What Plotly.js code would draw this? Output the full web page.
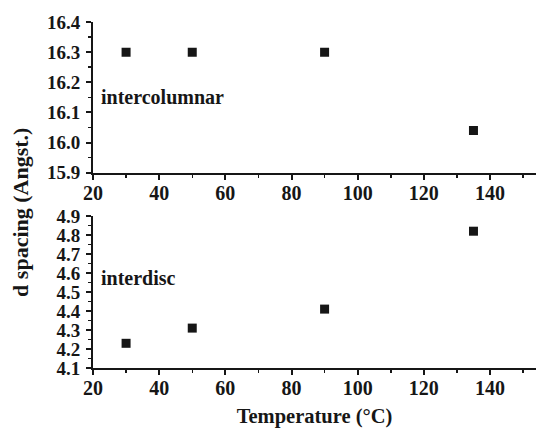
<!DOCTYPE html>
<html>
<head>
<meta charset="utf-8">
<script src="https://cdn.plot.ly/plotly-3.0.1.min.js"></script>
<style>html,body{margin:0;padding:0;background:#fff;}#chart{width:536px;height:428px;}</style>
</head>
<body>
<div id="chart"></div>
<script>
var temperature = [30, 50, 90, 135];
var intercolumnar = [16.30, 16.30, 16.30, 16.04];
var interdisc = [4.23, 4.31, 4.41, 4.82];
var xTicks = [20, 40, 60, 80, 100, 120, 140];
var panelLabels = ["intercolumnar", "interdisc"];

var FONT = "Liberation Serif, Times New Roman, serif";
var INK = "#161616";

var marker = {symbol: "square", size: 9, color: INK};
var traces = [
  {x: temperature, y: intercolumnar, type: "scatter", mode: "markers", marker: marker, xaxis: "x", yaxis: "y", hoverinfo: "none"},
  {x: temperature, y: interdisc, type: "scatter", mode: "markers", marker: marker, xaxis: "x2", yaxis: "y2", hoverinfo: "none"}
];

function xAxis(anchor) {
  return {
    anchor: anchor, domain: [0, 1], range: [20, 153.9],
    tickvals: xTicks, ticktext: xTicks.map(String),
    ticks: "outside", ticklen: 5, tickwidth: 2, tickcolor: INK,
    minor: {dtick: 10, tick0: 0, ticks: "outside", ticklen: 3, tickwidth: 1.5, tickcolor: INK},
    showline: true, linewidth: 2, linecolor: INK, showgrid: false, zeroline: false,
    tickfont: {family: FONT, size: 20, color: INK, weight: "bold"}, ticklabelstandoff: -4
  };
}
function yAxis(anchor, domain, range) {
  return {
    anchor: anchor, domain: domain, range: range, dtick: 0.1, tick0: 0, tickformat: ".1f",
    ticks: "outside", ticklen: 5, tickwidth: 2, tickcolor: INK,
    minor: {dtick: 0.05, ticks: "outside", ticklen: 3, tickwidth: 1.5, tickcolor: INK},
    showline: true, linewidth: 2, linecolor: INK, showgrid: false, zeroline: false,
    tickfont: {family: FONT, size: 19, color: INK, weight: "bold"}, ticklabelstandoff: 2
  };
}

var layout = {
  width: 536, height: 428,
  margin: {l: 93, r: 0, t: 22, b: 60},
  paper_bgcolor: "#ffffff", plot_bgcolor: "#ffffff",
  showlegend: false,
  xaxis: xAxis("y"),
  yaxis: yAxis("x", [0.5645, 1], [15.9, 16.4]),
  xaxis2: Object.assign(xAxis("y2"), {title: {text: "Temperature (°C)", font: {family: FONT, size: 20.5, color: INK, weight: "bold"}, standoff: 14}}),
  yaxis2: yAxis("x2", [0, 0.4393], [4.1, 4.9]),
  annotations: [
    {text: panelLabels[0], xref: "paper", yref: "paper", x: 0.014, y: (368 - 97) / 346, xanchor: "left", yanchor: "middle", showarrow: false, font: {family: FONT, size: 20, color: INK, weight: "bold"}},
    {text: panelLabels[1], xref: "paper", yref: "paper", x: 0.014, y: (368 - 278) / 346, xanchor: "left", yanchor: "middle", showarrow: false, font: {family: FONT, size: 20, color: INK, weight: "bold"}},
    {text: "d spacing (Angst.)", xref: "paper", yref: "paper", x: -0.165, y: (368 - 212) / 346, xanchor: "center", yanchor: "middle", textangle: -90, showarrow: false, font: {family: FONT, size: 22, color: INK, weight: "bold"}}
  ]
};

Plotly.newPlot("chart", traces, layout, {staticPlot: true, displayModeBar: false});
</script>
</body>
</html>
